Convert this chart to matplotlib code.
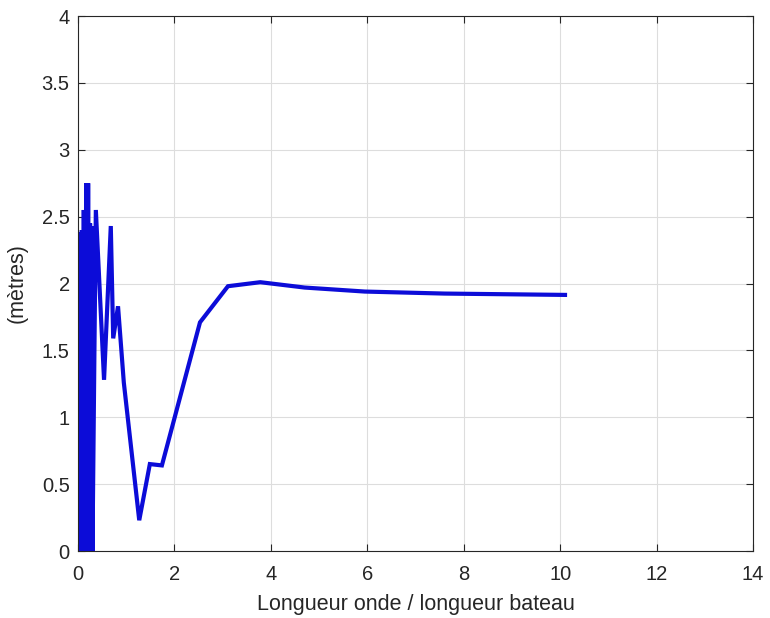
import matplotlib
matplotlib.use("Agg")
import matplotlib.pyplot as plt

# rapport longueur d'onde / longueur du bateau
ratio = [0.03, 0.04, 0.05, 0.06, 0.08, 0.10, 0.12, 0.14, 0.17, 0.19, 0.21, 0.23, 0.25, 0.27, 0.29,
         0.30, 0.34, 0.37, 0.54, 0.68, 0.73, 0.83, 0.95, 1.27, 1.49, 1.74,
         2.53, 3.11, 3.78, 4.70, 5.95, 7.60, 10.10]
# reponse en metres
metres = [0.0, 2.38, 0.0, 1.18, 2.40, 0.0, 2.55, 0.48, 2.75, 0.0, 2.75, 0.5, 2.45, 0.0, 2.43,
          0.0, 1.48, 2.55, 1.28, 2.43, 1.59, 1.83, 1.26, 0.23, 0.65, 0.64,
          1.71, 1.98, 2.01, 1.97, 1.94, 1.925, 1.915]

plt.rcParams['font.family'] = ['Liberation Sans', 'DejaVu Sans']

fig = plt.figure(figsize=(7.7, 6.18), dpi=100)
ax = fig.add_axes([0.1013, 0.1084, 0.8767, 0.8656])

ax.plot(ratio, metres, color='#0c0cd8', linewidth=3.0, solid_joinstyle='miter')

ax.set_xlim(0, 14)
ax.set_ylim(0, 4)
ax.set_xticks(range(0, 15, 2))
ax.set_yticks([0, 0.5, 1, 1.5, 2, 2.5, 3, 3.5, 4])
ax.set_yticklabels(['0', '0.5', '1', '1.5', '2', '2.5', '3', '3.5', '4'])
ax.grid(True, color='#dddddd', linewidth=0.8)
ax.set_axisbelow(True)
ax.tick_params(direction='in', top=True, right=True, labelsize=14.5, colors='#262626', length=5)
ax.tick_params(axis='x', pad=10)
ax.tick_params(axis='y', pad=6)
for s in ax.spines.values():
    s.set_color('#262626')
    s.set_linewidth(0.8)

ax.set_xlabel('Longueur onde / longueur bateau', fontsize=15.5, color='#262626', labelpad=7)
ax.set_ylabel('(mètres)', fontsize=15.5, color='#262626', labelpad=10)

fig.savefig('out.png', dpi=100)
